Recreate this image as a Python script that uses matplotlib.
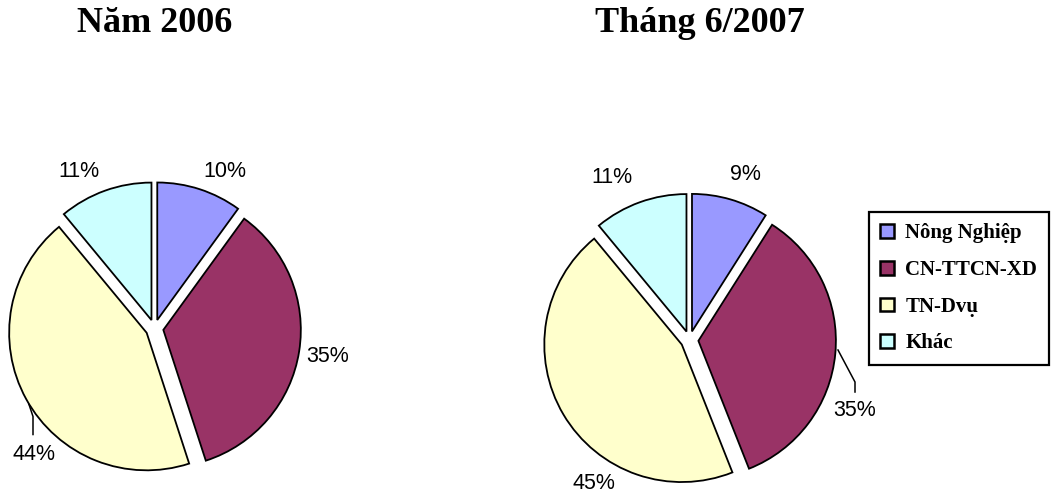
import numpy as np
import matplotlib
matplotlib.use("Agg")
import matplotlib.pyplot as plt

# data
categories = ["Nông Nghiệp", "CN-TTCN-XD", "TN-Dvụ", "Khác"]
values_2006 = [10, 35, 44, 11]
values_2007 = [9, 35, 45, 11]
titles = ["Năm 2006", "Tháng 6/2007"]
colors = ["#9999FF", "#993366", "#FFFFCC", "#CCFFFF"]

W, H = 1055, 494
fig = plt.figure(figsize=(W / 100, H / 100), dpi=100)

R_PX = 137.5  # pie radius in pixels
LIM = 1.5     # axes limits in data units


def pie_axes(cx, cy):
    # square axes centred on (cx, cy) pixel position (y from top)
    side = 2 * LIM * R_PX
    return fig.add_axes([(cx - side / 2) / W, 1 - (cy + side / 2) / H, side / W, side / H])


def px(p):
    # pixel offsets from pie centre -> data units
    return (p[0] / R_PX, p[1] / R_PX)


def draw_pie(ax, vals, label_pos, leaders):
    wedges, _ = ax.pie(vals, colors=colors, startangle=90, counterclock=False,
                       explode=[0.065] * len(vals), radius=1.0,
                       wedgeprops=dict(edgecolor="black", linewidth=1.3))
    ax.set_xlim(-LIM, LIM)
    ax.set_ylim(-LIM, LIM)
    ax.set_aspect("equal")
    ax.axis("off")
    total = float(sum(vals))
    for i, v in enumerate(vals):
        lx, ly = px((label_pos[i][0], label_pos[i][1] - 2))
        ax.text(lx, ly, "%d%%" % round(100 * v / total), ha="center", va="center",
                fontsize=15.5, family="Liberation Sans")
    for pts in leaders:
        pts = [px(p) for p in pts]
        ax.plot([p[0] for p in pts], [p[1] for p in pts], color="black", lw=1.1,
                clip_on=False)
    return wedges


# label offsets (pixels from pie centre, y up)
labels_2006 = [(70.5, 159), (173.5, -26), (-120.5, -124), (-75.5, 159)]
leaders_2006 = [[(-125.5, -76), (-121.5, -88), (-121.5, -106)]]
labels_2007 = [(55.5, 167.5), (165.5, -68.5), (-95.5, -141.5), (-77.5, 165)]
leaders_2007 = [[(148.5, -10), (165.5, -42), (165.5, -52)]]

ax1 = pie_axes(154.5, 328.5)
w1 = draw_pie(ax1, values_2006, labels_2006, leaders_2006)

ax2 = pie_axes(689.5, 340)
w2 = draw_pie(ax2, values_2007, labels_2007, leaders_2007)

fig.text(155 / W, 1 - 24 / H, titles[0], ha="center", va="center", fontsize=26,
         fontweight="bold", family="Liberation Serif")
fig.text(700 / W, 1 - 24 / H, titles[1], ha="center", va="center", fontsize=26,
         fontweight="bold", family="Liberation Serif")

leg = fig.legend(w2, categories, loc="upper left", bbox_to_anchor=(869 / W, 1 - 212 / H),
                 prop=dict(family="Liberation Serif", weight="bold", size=15),
                 fancybox=False, shadow=False, framealpha=1, edgecolor="black",
                 handlelength=0.65, handleheight=0.65, handletextpad=0.55,
                 labelspacing=0.8, borderpad=0.55, borderaxespad=0)
leg.get_frame().set_linewidth(1.6)
for h in leg.legend_handles:
    h.set_linewidth(1.8)

fig.savefig("out.png", dpi=100)
